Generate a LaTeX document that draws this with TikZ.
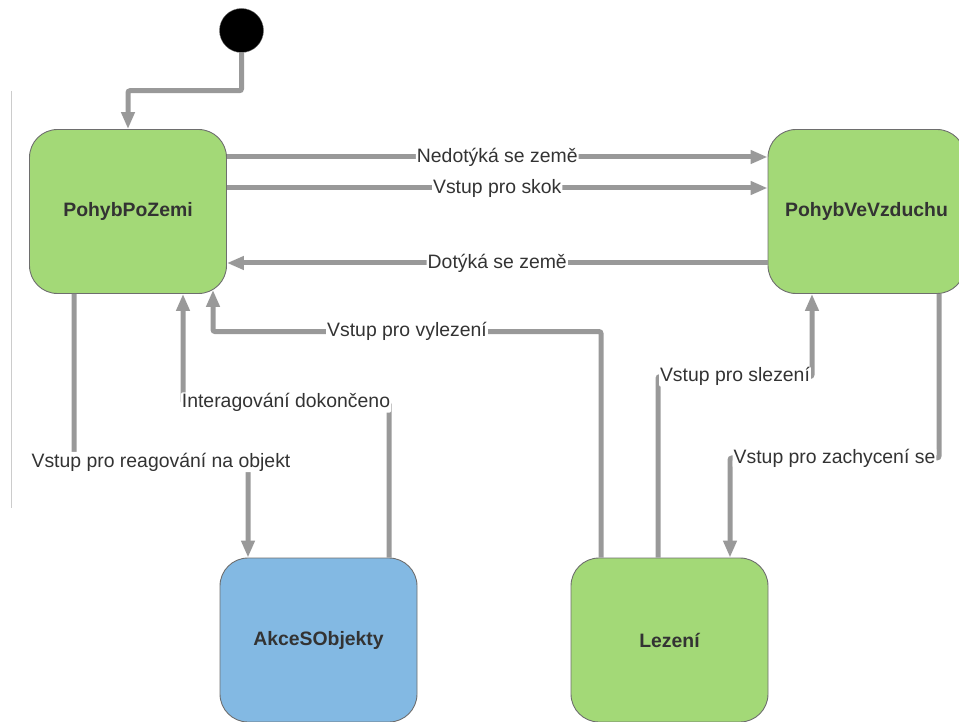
\documentclass[tikz,border=0pt]{standalone}
\usepackage{fontspec}
\setmainfont{Liberation Sans}
\usetikzlibrary{arrows.meta}

\definecolor{groundgreen}{HTML}{A3D977}
\definecolor{objblue}{HTML}{83B9E3}
\definecolor{bordergray}{HTML}{6E6E6E}
\definecolor{flowgray}{HTML}{999999}
\definecolor{textgray}{HTML}{333333}
\definecolor{sidegray}{HTML}{CCCCCC}

\tikzset{
  state/.style={draw=bordergray, line width=0.9pt, rounded corners=28pt,
    minimum width=197pt, minimum height=164pt, inner sep=0pt,
    text=textgray, font=\fontsize{19.4}{23}\selectfont\bfseries},
  flow/.style={draw=flowgray, line width=5pt, rounded corners=2pt,
    -{Triangle[length=17pt,width=13pt]}},
  lbl/.style={fill=white, inner sep=1pt, text=textgray,
    font=\fontsize{19.4}{23}\selectfont}
}

\begin{document}
\begin{tikzpicture}[x=1pt, y=-1pt]
    \newcommand{\rowa}{54.5pt}  % heights of the side arrows
    \newcommand{\rowb}{23.5pt}
    \newcommand{\rowc}{-51.5pt}

    \clip (0,0) rectangle (959,722);

    % thin rule at the left
    \draw[sidegray, line width=1pt] (11.5,91) -- (11.5,508);

    % states
    \node[state, fill=groundgreen] (pozemi) at (128,211.5) {PohybPoZemi};
    \node[state, fill=groundgreen] (vzduch) at (866.5,211.5) {PohybVeVzduchu};
    \node[state, fill=objblue] (akce) at (318.5,640) {AkceSObjekty};
    \node[state, fill=groundgreen] (lezeni) at (669.5,640) {Lezení};

    % initial state
    \node[circle, fill=black, draw=bordergray, minimum size=44pt, inner sep=0pt] (start) at (241.5,30.5) {};
    \draw[flow] (start.south) -- ++(0,38) -| (pozemi.north);

    % ground <-> air
    \draw[flow] ([yshift=\rowa]pozemi.east) -- node[lbl] {Nedotýká se země} ([yshift=\rowa]vzduch.west);
    \draw[flow] ([yshift=\rowb]pozemi.east) -- node[lbl] {Vstup pro skok} ([yshift=\rowb]vzduch.west);
    \draw[flow] ([yshift=\rowc]vzduch.west) -- node[lbl] {Dotýká se země} ([yshift=\rowc]pozemi.east);

    % objects
    \draw[flow] ([xshift=-54pt]pozemi.south) -- ++(0,168) -| node[lbl, pos=0.25] {Vstup pro reagování na objekt} ([xshift=-70.5pt]akce.north);
    \draw[flow] ([xshift=70.5pt]akce.north) -- ++(0,-155) -| node[lbl, pos=0.25] {Interagování dokončeno} ([xshift=55pt]pozemi.south);

    % climbing
    \draw[flow] ([xshift=-68.5pt]lezeni.north) -- ++(0,-226) -| node[lbl, pos=0.25] {Vstup pro vylezení} ([xshift=85pt,yshift=4pt]pozemi.south);
    \draw[flow] ([xshift=-11.5pt]lezeni.north) -- ++(0,-181) -| node[lbl, pos=0.25] {Vstup pro slezení} ([xshift=-54.5pt]vzduch.south);
    \draw[flow] ([xshift=72.5pt]vzduch.south) -- ++(0,164) -| node[lbl, pos=0.25] {Vstup pro zachycení se} ([xshift=60.5pt]lezeni.north);
\end{tikzpicture}
\end{document}
